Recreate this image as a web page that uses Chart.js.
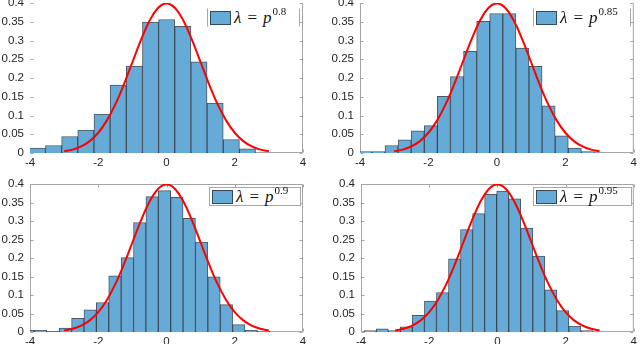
<!DOCTYPE html>
<html>
<head>
<meta charset="utf-8">
<script src="https://cdn.jsdelivr.net/npm/chart.js@4.4.1/dist/chart.umd.min.js"></script>
<style>
  body { margin: 0; background: #fff; width: 640px; height: 345px; overflow: hidden; position: relative; }
  canvas { position: absolute; }
  .legend { position: absolute; background: #fff; border: 1px solid #a8a8a8; display: flex; align-items: center;
            font-family: "Liberation Serif", "DejaVu Serif", serif; font-size: 17px; color: #111; white-space: nowrap; }
  .legend.open { border-top-color: transparent; border-bottom-color: transparent; }
  .legend .sw { width: 19px; height: 12px; background: #66aad7; border: 1px solid #34495a; margin: 0 3px 0 2px; flex: none; }
  .legend .eq { margin: 0 6px; font-style: normal; }
  .legend sup { font-size: 11px; position: relative; top: -6px; line-height: 1; font-style: normal; margin-left: 1px; }
</style>
</head>
<body>
<canvas id="c1" width="320" height="180" style="left:0;top:-10px"></canvas>
<canvas id="c2" width="310" height="180" style="left:330px;top:-10px"></canvas>
<canvas id="c3" width="320" height="174" style="left:0;top:171px"></canvas>
<canvas id="c4" width="309" height="174" style="left:331px;top:171px"></canvas>

<div class="legend open" style="left:207px;top:8px;width:91px;height:17px"><span class="sw"></span><i>λ</i><span class="eq">=</span><i>p</i><sup>0.8</sup></div>
<div class="legend open" style="left:533px;top:8px;width:96px;height:17px"><span class="sw"></span><i>λ</i><span class="eq">=</span><i>p</i><sup>0.85</sup></div>
<div class="legend" style="left:209px;top:187px;width:90px;height:17px"><span class="sw"></span><i>λ</i><span class="eq">=</span><i>p</i><sup>0.9</sup></div>
<div class="legend" style="left:533px;top:187px;width:97px;height:17px"><span class="sw"></span><i>λ</i><span class="eq">=</span><i>p</i><sup>0.95</sup></div>

<script>
// tick values shared by every panel
const xTicks = [-4, -2, 0, 2, 4];
const yTicks = [0, 0.05, 0.1, 0.15, 0.2, 0.25, 0.3, 0.35, 0.4];

// histogram bin centres and heights
const centers08 = [-3.783, -3.310, -2.836, -2.363, -1.889, -1.415, -0.942, -0.468, 0.005, 0.479, 0.952, 1.426, 1.900, 2.373];
const freq08    = [0.013, 0.020, 0.044, 0.061, 0.104, 0.181, 0.232, 0.349, 0.356, 0.338, 0.243, 0.133, 0.036, 0.011];

const centers085 = [-3.844, -3.461, -3.079, -2.696, -2.314, -1.931, -1.549, -1.166, -0.784, -0.401, -0.019, 0.364, 0.746, 1.129, 1.511, 1.894, 2.276, 2.659];
const freq085    = [0.004, 0.004, 0.020, 0.035, 0.059, 0.073, 0.151, 0.204, 0.271, 0.351, 0.372, 0.372, 0.280, 0.231, 0.126, 0.046, 0.013, 0.004];

const centers09 = [-4.052, -3.689, -3.326, -2.963, -2.600, -2.237, -1.874, -1.511, -1.148, -0.785, -0.422, -0.059, 0.304, 0.667, 1.030, 1.393, 1.756, 2.119, 2.482, 2.845];
const freq09    = [0.005, 0.005, 0.002, 0.011, 0.037, 0.060, 0.080, 0.152, 0.201, 0.296, 0.366, 0.382, 0.364, 0.307, 0.243, 0.149, 0.074, 0.020, 0.005, 0.003];

const centers095 = [-3.729, -3.376, -3.023, -2.670, -2.317, -1.964, -1.611, -1.258, -0.905, -0.551, -0.198, 0.155, 0.508, 0.861, 1.214, 1.567, 1.920, 2.273, 2.627];
const freq095    = [0.004, 0.009, 0.004, 0.014, 0.045, 0.084, 0.107, 0.198, 0.277, 0.320, 0.372, 0.381, 0.360, 0.281, 0.205, 0.114, 0.058, 0.016, 0.004];

// red reference curve (same in all four panels)
const curveX = [-3, -2.75, -2.5, -2.25, -2, -1.75, -1.5, -1.25, -1, -0.75, -0.5, -0.25, 0, 0.25, 0.5, 0.75, 1, 1.25, 1.5, 1.75, 2, 2.25, 2.5, 2.75, 3];
const curveY = [0.0044, 0.0091, 0.0175, 0.0317, 0.054, 0.0863, 0.1295, 0.1826, 0.242, 0.3011, 0.3521, 0.3867, 0.3989, 0.3867, 0.3521, 0.3011, 0.242, 0.1826, 0.1295, 0.0863, 0.054, 0.0317, 0.0175, 0.0091, 0.0044];

// box round the axes with small inward ticks, like the matlab figure
const framePlugin = {
  id: 'frame',
  beforeDatasetsDraw(chart, args, opts) {
    const { ctx, chartArea: a, scales } = chart;
    const L = a.left + 0.5, R = a.right - 0.5, T = a.top + 0.5, B = a.bottom - 0.5;
    ctx.save();
    ctx.strokeStyle = '#a4a4a4';
    ctx.lineWidth = 1;
    ctx.beginPath();
    ctx.moveTo(L, B); ctx.lineTo(R, B);
    ctx.moveTo(R, B); ctx.lineTo(R, T);
    if (opts.top) { ctx.moveTo(L, T); ctx.lineTo(R, T); }
    if (opts.left) { ctx.moveTo(L, B); ctx.lineTo(L, T); }
    scales.y.ticks.forEach(t => {
      const y = Math.round(scales.y.getPixelForValue(t.value)) + 0.5;
      ctx.moveTo(L, y); ctx.lineTo(L + 3, y);
      ctx.moveTo(R, y); ctx.lineTo(R - 3, y);
    });
    scales.x.ticks.forEach(t => {
      const x = Math.round(scales.x.getPixelForValue(t.value)) + 0.5;
      ctx.moveTo(x, B); ctx.lineTo(x, B - 3);
      if (opts.top) { ctx.moveTo(x, T); ctx.lineTo(x, T + 3); }
    });
    ctx.stroke();
    ctx.restore();
  }
};

const tickFont = { family: '"Liberation Sans", Arial, sans-serif', size: 11.5 };

function makePanel(id, centers, freq, padRight, xHeight, frame) {
  const bars = centers.map((c, i) => ({ x: c, y: freq[i] }));
  const curve = curveX.map((x, i) => ({ x: x, y: curveY[i] }));
  new Chart(document.getElementById(id), {
    type: 'bar',
    data: {
      datasets: [{
        type: 'line',
        data: curve,
        borderColor: '#ff0000',
        borderWidth: 2,
        pointRadius: 0,
        tension: 0.4,
        fill: false,
        order: 0
      }, {
        data: bars,
        backgroundColor: '#66aad7',
        borderColor: 'rgba(30, 45, 58, 0.8)',
        borderWidth: 1,
        barPercentage: 1,
        categoryPercentage: 1,
        clip: 0,
        order: 1
      }]
    },
    options: {
      responsive: false,
      animation: false,
      layout: { padding: { top: 13, right: padRight, left: 0, bottom: 0 } },
      plugins: { legend: { display: false }, tooltip: { enabled: false }, frame: frame },
      scales: {
        x: {
          type: 'linear', min: -4, max: 4, offset: false,
          afterBuildTicks: s => { s.ticks = xTicks.map(v => ({ value: v })); },
          afterFit: s => { s.height = xHeight; },
          grid: { display: false, drawTicks: false },
          border: { display: false },
          ticks: { font: tickFont, color: '#262626', padding: 3, maxRotation: 0, callback: v => String(v) }
        },
        y: {
          min: 0, max: 0.4,
          afterBuildTicks: s => { s.ticks = yTicks.map(v => ({ value: v })); },
          afterFit: s => { s.width = 30; },
          grid: { display: false, drawTicks: false },
          border: { display: false },
          ticks: { font: tickFont, color: '#262626', padding: 6, callback: v => String(+v.toFixed(2)) }
        }
      }
    },
    plugins: [framePlugin]
  });
}

makePanel('c1', centers08, freq08, 17, 17, { top: false, left: false });
makePanel('c2', centers085, freq085, 5, 17, { top: false, left: true });
makePanel('c3', centers09, freq09, 17, 12, { top: true, left: true });
makePanel('c4', centers095, freq095, 4, 12, { top: true, left: true });
</script>
</body>
</html>
